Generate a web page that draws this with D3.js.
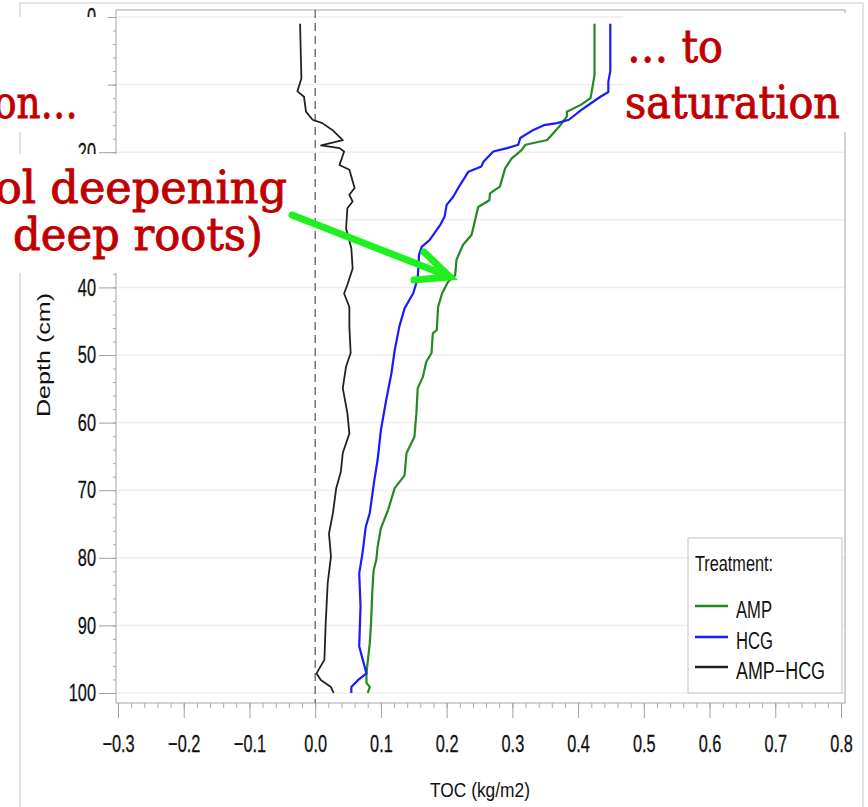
<!DOCTYPE html>
<html><head><meta charset="utf-8">
<script src="https://cdn.jsdelivr.net/npm/d3@7"></script>
<style>
html,body{margin:0;padding:0;background:#fff;overflow:hidden}
svg{display:block}
</style></head>
<body>
<svg id="chart" width="868" height="807"></svg>
<script>
// ---- data ----
const seriesNames = ["AMP", "HCG", "AMP\u2212HCG"];
const seriesColors = ["#238a23", "#1a1aff", "#222222"];
const xTicks = [-0.3, -0.2, -0.1, 0.0, 0.1, 0.2, 0.3, 0.4, 0.5, 0.6, 0.7, 0.8];
const yTicks = [0, 10, 20, 30, 40, 50, 60, 70, 80, 90, 100];
const yHiddenLabels = [10, 30]; // covered by annotation boxes in the original

const ampDepth = [1, 8.6, 10.3, 12.0, 13.0, 14.0, 14.7, 16.0, 18.2, 18.9, 19.7, 20.9, 22.4, 25.1, 26.1, 27.1, 28.1, 32.2, 33.7, 35.9, 38.2, 39.2, 40.9, 42.9, 46.3, 46.8, 49.7, 51.0, 53.2, 54.9, 58.6, 62.1, 64.5, 67.8, 69.7, 72.9, 75.6, 78.4, 80.3, 81.8, 84.8, 89.7, 92.7, 97.1, 98.5, 99.1, 100];
const ampToc = [.425, .425, .422, .419, .404, .383, .383, .373, .353, .320, .314, .299, .289, .281, .266, .265, .248, .238, .225, .215, .213, .202, .193, .187, .185, .179, .177, .169, .164, .156, .154, .151, .139, .136, .121, .111, .100, .095, .093, .089, .087, .085, .083, .078, .078, .083, .080];

const hcgDepth = [1, 8, 9.6, 11.1, 11.8, 12.8, 13.8, 15.2, 15.7, 16.0, 16.7, 17.9, 18.9, 19.4, 19.9, 21.4, 22.1, 22.9, 24.9, 26.6, 27.8, 29.5, 30.8, 33.0, 34.0, 35.2, 38.7, 40.9, 43.1, 45.8, 49.3, 52.7, 56.7, 61.1, 65.5, 68.5, 73.4, 75.4, 79.3, 82.3, 87.2, 93.1, 97.1, 98.1, 99.1, 100];
const hcgToc = [.449, .449, .446, .446, .434, .419, .404, .386, .368, .348, .332, .312, .309, .292, .271, .256, .253, .233, .220, .210, .200, .197, .190, .174, .162, .158, .156, .149, .136, .128, .121, .116, .108, .100, .095, .090, .083, .077, .072, .067, .069, .067, .078, .065, .055, .055];

const diffDepth = [1, 9.1, 11.0, 11.8, 14.0, 15.2, 15.7, 16.7, 18.2, 19.0, 19.4, 19.9, 21.9, 22.6, 25.3, 26.3, 27.3, 28.3, 31.3, 34.2, 37.2, 39.6, 40.9, 42.9, 45.8, 49.7, 51.7, 54.9, 58.6, 61.6, 64.5, 67.3, 69.7, 73.4, 76.4, 79.8, 83.8, 89.7, 95.1, 97.1, 98.1, 99.1, 100];
const diffToc = [-.023, -.021, -.027, -.017, -.014, -.004, .011, .026, .042, .009, .037, .044, .037, .052, .060, .052, .057, .049, .047, .055, .057, .049, .044, .052, .052, .054, .047, .042, .049, .052, .042, .039, .032, .027, .021, .024, .019, .016, .014, .002, .009, .024, .028];

// ---- chart ----
const svg = d3.select("#chart");
const x = d3.scaleLinear().domain([-0.3, 0.8]).range([118, 841]);
const y = d3.scaleLinear().domain([0, 100]).range([17, 693]);
const L = 116, R = 845, T = 10, B = 703;
const cond = 0.68;
const tickFont = "'Liberation Sans', Arial, sans-serif";
const ink = "#111111";

function condense(sel, s) {
  sel.each(function () {
    const w = this.getComputedTextLength();
    if (w > 0) {
      this.setAttribute("textLength", (w * s).toFixed(2));
      this.setAttribute("lengthAdjust", "spacingAndGlyphs");
    }
  });
}

// outer image border
svg.append("path").attr("d", `M20,807 L20,3 L863,3 L863,807`)
  .attr("fill", "none").attr("stroke", "#cfcfcf").attr("stroke-width", 1.2);

// gridlines
svg.append("g").selectAll("line").data(yTicks).join("line")
  .attr("x1", L).attr("x2", R).attr("y1", d => y(d)).attr("y2", d => y(d))
  .attr("stroke", "#eeeeee").attr("stroke-width", 1.5);

// frame
svg.append("rect").attr("x", L).attr("y", T).attr("width", R - L).attr("height", B - T)
  .attr("fill", "none").attr("stroke", "#b5b5b5").attr("stroke-width", 1.2);

// y axis minor
const yMinor = svg.append("g").attr("transform", `translate(${L},0)`)
  .call(d3.axisLeft(y).tickValues(d3.range(0, 101, 2)).tickSize(3).tickFormat(""));
yMinor.select(".domain").remove();
yMinor.selectAll("line").attr("stroke", "#aaaaaa");
// y axis major
const yAx = svg.append("g").attr("transform", `translate(${L},0)`)
  .call(d3.axisLeft(y).tickValues(yTicks).tickSize(17).tickPadding(3)
    .tickFormat(d => yHiddenLabels.includes(d) ? "" : d3.format("d")(d)));
yAx.select(".domain").remove();
yAx.selectAll("line").attr("stroke", "#a0a0a0");
yAx.selectAll("text").attr("font-family", tickFont).attr("font-size", 24).attr("fill", ink)
  .attr("stroke", ink).attr("stroke-width", 0.3);
condense(yAx.selectAll("text"), cond);

// x axis minor
const xMinor = svg.append("g").attr("transform", `translate(0,${B})`)
  .call(d3.axisBottom(x).tickValues(d3.range(-15, 41).map(i => i * 0.02)).tickSize(5).tickFormat(""));
xMinor.select(".domain").remove();
xMinor.selectAll("line").attr("stroke", "#aaaaaa");
const xAx = svg.append("g").attr("transform", `translate(0,${B})`)
  .call(d3.axisBottom(x).tickValues(xTicks).tickSize(15).tickPadding(17).tickFormat(d3.format(".1f")));
xAx.select(".domain").remove();
xAx.selectAll("line").attr("stroke", "#a0a0a0");
xAx.selectAll("text").attr("font-family", tickFont).attr("font-size", 24).attr("fill", ink)
  .attr("stroke", ink).attr("stroke-width", 0.3);
condense(xAx.selectAll("text"), cond);

// axis titles
svg.append("text").attr("x", 480).attr("y", 797).attr("text-anchor", "middle")
  .attr("font-family", tickFont).attr("font-size", 20).attr("fill", ink)
  .attr("textLength", 100).attr("lengthAdjust", "spacingAndGlyphs").text("TOC  (kg/m2)");
svg.append("text").attr("transform", "translate(50,355) rotate(-90)").attr("text-anchor", "middle")
  .attr("font-family", tickFont).attr("font-size", 18).attr("fill", ink)
  .attr("textLength", 124).attr("lengthAdjust", "spacingAndGlyphs").text("Depth  (cm)");

// zero reference line
svg.append("line").attr("x1", x(0)).attr("x2", x(0)).attr("y1", T).attr("y2", B)
  .attr("stroke", "#555").attr("stroke-width", 1.2).attr("stroke-dasharray", "8,5");

// series
const series = [
  { name: seriesNames[0], color: seriesColors[0], d: ampDepth, v: ampToc },
  { name: seriesNames[1], color: seriesColors[1], d: hcgDepth, v: hcgToc },
  { name: seriesNames[2], color: seriesColors[2], d: diffDepth, v: diffToc }
];
const line = d3.line().x(p => x(p[1])).y(p => y(p[0]));
series.forEach(s => {
  svg.append("path").datum(s.d.map((dd, i) => [dd, s.v[i]]))
    .attr("d", line).attr("fill", "none").attr("stroke", s.color)
    .attr("stroke-width", s.name === "AMP\u2212HCG" ? 1.8 : 2.2).attr("stroke-linejoin", "round");
});

// legend
const lg = svg.append("g");
lg.append("rect").attr("x", 688).attr("y", 538).attr("width", 154).attr("height", 155)
  .attr("fill", "#fff").attr("stroke", "#cccccc").attr("stroke-width", 1.2);
lg.append("text").attr("x", 695).attr("y", 571).attr("font-family", tickFont)
  .attr("font-size", 22).attr("fill", ink)
  .attr("textLength", 78).attr("lengthAdjust", "spacingAndGlyphs").text("Treatment:");
const legY = [606, 637, 667];
const legW = [36, 37, 89];
series.forEach((s, i) => {
  lg.append("line").attr("x1", 695).attr("x2", 728).attr("y1", legY[i]).attr("y2", legY[i])
    .attr("stroke", s.color).attr("stroke-width", 2.4);
  lg.append("text").attr("x", 736).attr("y", legY[i] + 12).attr("font-family", tickFont)
    .attr("font-size", 23).attr("fill", ink)
    .attr("textLength", legW[i]).attr("lengthAdjust", "spacingAndGlyphs").text(s.name);
});

// ---- annotations (overlaid text boxes) ----
const red = "#c00000";
const serif = "'DejaVu Serif', 'Liberation Serif', serif";
svg.append("rect").attr("x", 0).attr("y", 17).attr("width", 108).attr("height", 115).attr("fill", "#fff");
svg.append("rect").attr("x", 0).attr("y", 154).attr("width", 292).attr("height", 119).attr("fill", "#fff");
svg.append("rect").attr("x", 623).attr("y", 13).attr("width", 229).attr("height", 119).attr("fill", "#fff");

function redText(txt, xx, yy, anchor, width) {
  const t = svg.append("text").attr("x", xx).attr("y", yy).attr("text-anchor", anchor)
    .attr("font-family", serif).attr("font-size", 44).attr("fill", red)
    .attr("stroke", red).attr("stroke-width", 0.9).text(txt);
  if (width) t.attr("textLength", width).attr("lengthAdjust", "spacingAndGlyphs");
  return t;
}
redText("\u2026 to", 627, 62, "start", 96);
redText("saturation", 625, 118, "start", 215);
redText("on\u2026", 78, 118, "end", 84);
redText("ol deepening", 287, 203, "end", 292);
redText("deep roots)", 13, 250, "start", 250);

// arrow
const arrowCol = "#1ff01f";
svg.append("path").attr("d", "M292,215 L448,276").attr("stroke", arrowCol).attr("stroke-width", 7)
  .attr("stroke-linecap", "round").attr("fill", "none");
svg.append("path").attr("d", "M424,252 L450,277 L414,280").attr("stroke", arrowCol).attr("stroke-width", 7)
  .attr("stroke-linecap", "round").attr("stroke-linejoin", "miter").attr("fill", "none");
</script>
</body></html>
